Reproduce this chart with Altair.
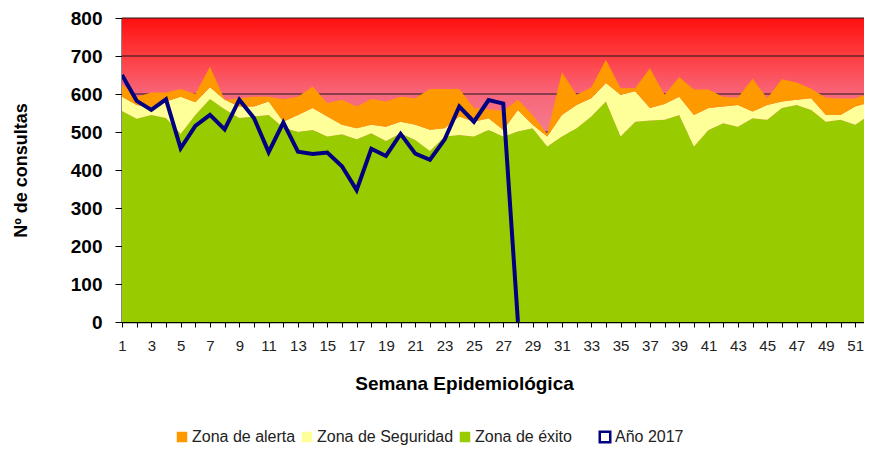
import altair as alt
import pandas as pd

weeks = list(range(1, 53))
exito = [555, 535, 545, 537, 495, 545, 587, 560, 537, 541, 545, 512, 500, 505, 488, 494,
         481, 497, 476, 497, 479, 450, 488, 492, 488, 505, 488, 501, 510, 462, 488, 510,
         541, 580, 488, 527, 530, 532, 545, 462, 505, 523, 514, 536, 532, 563, 571, 558,
         527, 532, 519, 545]
seguridad_top = [593, 571, 565, 580, 593, 578, 618, 585, 567, 567, 580, 527, 545, 563, 541, 519,
                 510, 519, 514, 527, 519, 506, 510, 541, 527, 536, 505, 558, 519, 488, 545, 571,
                 589, 629, 598, 607, 563, 574, 593, 545, 563, 567, 571, 554, 571, 580, 585, 589,
                 545, 545, 567, 578]
alerta_top = [625, 592, 604, 604, 613, 600, 672, 585, 589, 593, 593, 586, 593, 620, 576, 585,
              567, 587, 580, 593, 589, 613, 613, 613, 563, 560, 555, 585, 545, 495, 657, 598,
              617, 690, 615, 615, 668, 598, 644, 612, 612, 592, 590, 640, 589, 639, 630, 614,
              590, 588, 588, 603]
line_weeks = list(range(1, 29))
anio_2017 = [650, 582, 558, 586, 457, 516, 545, 507, 585, 537, 447, 525, 448, 442, 446, 410,
             347, 456, 437, 495, 443, 427, 480, 567, 527, 584, 575, 0]
y_ticks = [100, 200, 300, 400, 500, 600, 700, 800]
zonas = ["Zona de alerta", "Zona de Seguridad", "Zona de éxito"]
zona_colors = ["#ff9900", "#ffff99", "#99cc00"]

W, H = 742, 304
FONT = "Liberation Sans"

rows = []
for i, w in enumerate(weeks):
    rows.append({"semana": w, "zona": zonas[2], "top": exito[i], "bottom": 0})
    rows.append({"semana": w, "zona": zonas[1], "top": seguridad_top[i], "bottom": exito[i]})
    rows.append({"semana": w, "zona": zonas[0], "top": alerta_top[i], "bottom": seguridad_top[i]})
zones_df = pd.DataFrame(rows)
line_df = pd.DataFrame({"semana": line_weeks, "valor": anio_2017})
grid_df = pd.DataFrame({"v": y_ticks})
bg_df = pd.DataFrame({"top": [800], "bottom": [0]})

x_scale = alt.Scale(domain=[1, 51.6], nice=False, zero=False)
y_scale = alt.Scale(domain=[0, 800], nice=False)

y_axis = alt.Axis(
    title="Nº de consultas", values=[0] + y_ticks, grid=False, labelOverlap=False,
    labelFont=FONT, labelFontSize=19, labelFontWeight="bold", labelColor="#000",
    labelPadding=13, tickSize=7, tickColor="#000", domainColor="#111122", domainWidth=2,
    titleFont=FONT, titleFontSize=18, titleFontWeight="bold", titleColor="#000",
    titlePadding=40)
x_axis = alt.Axis(
    title="Semana Epidemiológica", values=weeks, grid=False,
    labelExpr="datum.value % 2 == 1 ? datum.label : ''",
    labelFont=FONT, labelFontSize=15, labelColor="#222", labelPadding=11,
    labelFlush=False, labelOverlap=False,
    tickSize=5, tickColor="#000", domainColor="#000", domainWidth=1.5,
    titleFont=FONT, titleFontSize=19, titleFontWeight="bold", titleColor="#000",
    titlePadding=21, titleX=342)

gradient = {
    "gradient": "linear", "x1": 0, "y1": 0, "x2": 0, "y2": 1,
    "stops": [
        {"offset": 0.0, "color": "#ff0f0f"},
        {"offset": 0.125, "color": "#ff3d40"},
        {"offset": 0.25, "color": "#f8667a"},
        {"offset": 0.36, "color": "#f47a8a"},
        {"offset": 1.0, "color": "#f47a8a"},
    ],
}

bg = alt.Chart(bg_df).mark_rect(color=gradient).encode(
    y=alt.Y("top:Q", scale=y_scale, axis=y_axis),
    y2="bottom:Q",
    x=alt.value(0),
    x2=alt.value(W),
)

grid = alt.Chart(grid_df).mark_rule(color="#1a1a1a", strokeWidth=1).encode(
    y=alt.Y("v:Q", scale=y_scale, axis=y_axis)
)

areas = alt.Chart(zones_df).mark_area(opacity=1, clip=True).encode(
    x=alt.X("semana:Q", scale=x_scale, axis=x_axis),
    y=alt.Y("top:Q", scale=y_scale, axis=y_axis),
    y2="bottom:Q",
    fill=alt.Fill("zona:N", scale=alt.Scale(domain=zonas, range=zona_colors),
                  legend=alt.Legend(title=None, orient="none", direction="horizontal",
                                    legendX=52, legendY=411, symbolType="square",
                                    symbolSize=110, symbolStrokeWidth=0, labelFont=FONT,
                                    labelFontSize=16, labelColor="#222", labelOffset=2,
                                    columnPadding=3, columns=3)),
)

line = alt.Chart(line_df).mark_line(strokeWidth=4, clip=True).encode(
    x=alt.X("semana:Q", scale=x_scale, axis=x_axis),
    y=alt.Y("valor:Q", scale=y_scale, axis=y_axis),
    stroke=alt.Stroke("serie:N", scale=alt.Scale(domain=["Año 2017"], range=["#000080"]),
                      legend=alt.Legend(title=None, orient="none", legendX=475, legendY=411,
                                        symbolType="square", symbolSize=110,
                                        symbolFillColor="white", symbolStrokeColor="#000080",
                                        symbolStrokeWidth=2.5, labelFont=FONT,
                                        labelFontSize=16, labelColor="#222", labelOffset=2)),
).transform_calculate(serie="'Año 2017'")

chart = alt.layer(bg, grid, areas, line).properties(
    width=W, height=H,
    autosize=alt.AutoSizeParams(type="none"),
    padding={"left": 114, "top": 10, "right": 0, "bottom": 126},
).resolve_scale(fill="independent", stroke="independent").configure_view(
    stroke=None
).configure_axis(labelOverlap=False)

chart.save("out.html", embed_options={"renderer": "svg", "actions": False})
